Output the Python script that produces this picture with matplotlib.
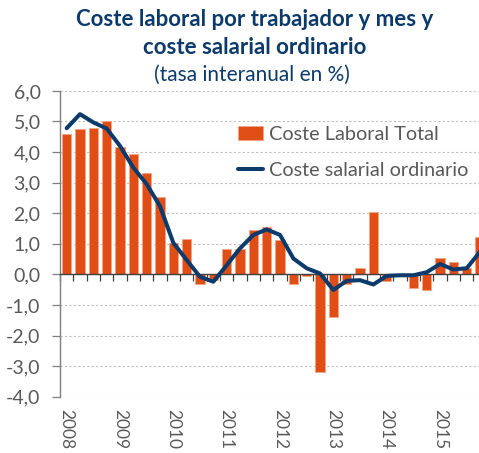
import numpy as np
import matplotlib.pyplot as plt
from matplotlib.transforms import blended_transform_factory

# Datos trimestrales 2008T1 - 2015T4 (tasa interanual en %)
years = ["2008", "2009", "2010", "2011", "2012", "2013", "2014", "2015"]
quarters = [y + "T" + str(q) for y in years for q in range(1, 5)]

coste_laboral_total = [4.60, 4.75, 4.80, 5.02, 4.17, 3.95, 3.32, 2.52,
                       1.02, 1.15, -0.32, -0.18, 0.82, 0.82, 1.45, 1.56,
                       1.13, -0.32, -0.05, -3.19, -1.39, -0.30, 0.20, 2.05,
                       -0.23, -0.02, -0.44, -0.52, 0.52, 0.40, 0.20, 1.21]

coste_salarial_ordinario = [4.78, 5.24, 4.97, 4.77, 4.20, 3.49, 2.95, 2.23,
                            1.03, 0.47, -0.08, -0.24, 0.30, 0.85, 1.29, 1.47,
                            1.29, 0.52, 0.20, 0.03, -0.51, -0.21, -0.19, -0.33,
                            -0.05, -0.03, -0.03, 0.07, 0.34, 0.16, 0.20, 0.74]

yticks = [-4, -3, -2, -1, 0, 1, 2, 3, 4, 5, 6]

orange = "#E04E16"
navy = "#0B3A6B"
grey = "#595959"

plt.rcParams['font.family'] = ['Lato', 'DejaVu Sans']

fig = plt.figure(figsize=(4.79, 4.53), dpi=100)
ax = fig.add_axes([60 / 479, 56.3 / 453, 426.7 / 479, 305.8 / 453])

x = np.arange(len(quarters))
bars = ax.bar(x, coste_laboral_total, width=0.68, color=orange,
              edgecolor="#F3A585", linewidth=0.6, label="Coste Laboral Total", zorder=2)
line, = ax.plot(x, coste_salarial_ordinario, color=navy, linewidth=2.9,
                solid_capstyle="round", solid_joinstyle="round",
                label="Coste salarial ordinario", zorder=3)

ax.set_xlim(-0.5, len(quarters) - 0.5)
ax.set_ylim(-4, 6)

# Ejes: eje x en el cero, rejilla punteada
ax.spines["top"].set_visible(False)
ax.spines["right"].set_visible(False)
ax.spines["bottom"].set_position(("data", 0))
ax.spines["bottom"].set_color("#404040")
ax.spines["left"].set_color("#7F7F7F")
ax.spines["bottom"].set_linewidth(1.0)
ax.spines["left"].set_linewidth(1.0)

ax.set_xticks(np.arange(len(quarters) + 1) - 0.5)
ax.set_xticklabels([])
ax.tick_params(axis="x", direction="out", length=5, width=0.9, color="#404040")

ax.set_yticks(yticks)
ax.set_yticklabels([f"{v:.1f}".replace(".", ",") for v in yticks])
ax.tick_params(axis="y", direction="out", length=6, width=0.9, color="#7F7F7F",
               labelsize=14, labelcolor=grey, pad=8)

for v in yticks:
    if v != 0:
        ax.axhline(v, color="#BFBFBF", linewidth=0.8, linestyle=(0, (2, 2)), zorder=1)

# Etiquetas de año en vertical bajo el gráfico
trans = blended_transform_factory(ax.transData, ax.transAxes)
for i, y in enumerate(years):
    ax.text(i * 4, -0.04, y, transform=trans, rotation=270, ha="center", va="top",
            fontsize=12.5, color=grey, clip_on=False)

leg = ax.legend([bars, line], ["Coste Laboral Total", "Coste salarial ordinario"],
                loc="upper left", bbox_to_anchor=(238 / 479, 1 - 126 / 453),
                bbox_transform=fig.transFigure, frameon=False, fontsize=14.3,
                labelcolor=grey, handlelength=1.25, handletextpad=0.3,
                labelspacing=0.95, borderaxespad=0, borderpad=0)

fig.text(0.532, 1 - 20 / 453, "Coste laboral por trabajador y mes y", ha="center",
         va="center", fontsize=16, fontweight="bold", color=navy)
fig.text(0.532, 1 - 47 / 453, "coste salarial ordinario", ha="center",
         va="center", fontsize=16, fontweight="bold", color=navy)
fig.text(0.527, 1 - 75 / 453, "(tasa interanual en %)", ha="center",
         va="center", fontsize=15, color=navy)

plt.savefig("out.png", dpi=100)
plt.close()
